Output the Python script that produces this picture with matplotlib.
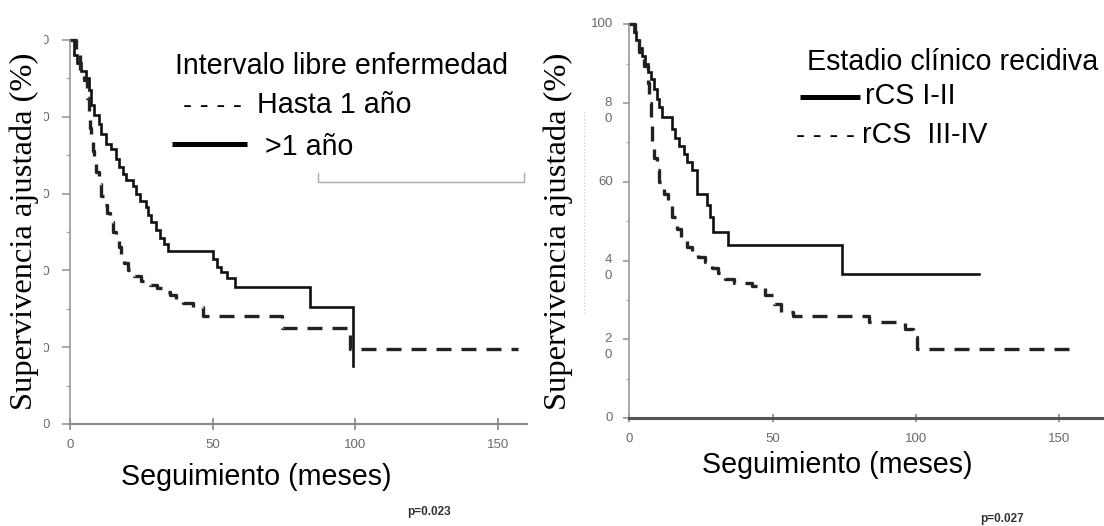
import matplotlib
matplotlib.use("Agg")
import matplotlib.pyplot as plt
from matplotlib.lines import Line2D
from matplotlib.patches import Rectangle
import matplotlib.transforms as mtransforms

# ---------------- data ----------------
# Left panel: Intervalo libre enfermedad
left_gt1_t = [0, 1.5, 2.5, 4, 5.5, 6.5, 7.5, 8.5, 10, 11, 12.5, 14.5, 16, 17, 18.5, 19.5,
              22, 23, 24.5, 26.5, 27.5, 28.5, 30, 31.5, 33, 34.5, 50.2, 51.5, 53, 55, 57.8,
              84.1, 99.3]
left_gt1_s = [100, 96, 94, 92, 90, 87, 83, 80.5, 78, 75.5, 73, 71.5, 69, 67, 65, 63.5,
              62, 60, 58, 56.5, 54.5, 52.5, 50.5, 48.5, 47, 45, 43, 41, 39.5, 38, 35.8,
              30.5, 15.2]
left_le1_t = [0, 2, 3.5, 5, 6, 6.5, 7, 7.5, 8, 8.5, 9, 10, 11, 12, 13, 14, 15, 16, 17, 18,
              19, 20.5, 22.5, 25, 28, 30.5, 33, 35, 37, 39.5, 43, 46.7, 74.2, 98, 157]
left_le1_s = [100, 96, 92, 89.5, 85, 81, 77, 74, 71, 68, 65.5, 62.5, 59.5, 57, 55, 52.5,
              50, 48, 46, 44, 42, 40, 38.5, 37.3, 36.3, 35.5, 34.5, 33.5, 32.5, 31.5, 30.5,
              28.2, 25, 19.6, 19.6]

# Right panel: Estadio clínico recidiva
right_i_ii_t = [0, 1.5, 2.2, 3.5, 4.5, 5.5, 6.5, 7.5, 8.5, 9.5, 10.5, 11.5, 15, 16, 17.5,
                19, 20, 22, 23.5, 27, 28.3, 29.3, 34.6, 74.1, 121.9]
right_i_ii_s = [100, 98, 96, 94, 92, 90, 88, 86, 83.5, 81, 79, 76.5, 73.5, 71, 69,
                67, 65, 63, 57, 54, 51, 47.3, 43.9, 36.7, 36.7]
right_iii_iv_t = [0, 2, 3.5, 5, 6.5, 7, 7.5, 8, 8.5, 9.5, 10.5, 12, 13.5, 15, 16.5, 18, 20,
                  22, 24, 26.5, 29, 31, 33.5, 36.5, 43, 47.5, 50.5, 53, 57, 83.8, 96.3, 99,
                  100.4, 156.9]
right_iii_iv_s = [100, 97, 93, 89.5, 85, 80, 75, 70, 66, 63, 60, 57, 54, 51, 48, 45.5, 43.5,
                  42, 40.8, 39.5, 38.2, 36.8, 35.3, 34.3, 33.5, 31.2, 29, 27, 26, 24.3, 22.5,
                  20.5, 17.5, 17.5]

x_ticks = [0, 50, 100, 150]
y_ticks = [0, 20, 40, 60, 80, 100]
y_minor = [10, 30, 50, 70, 90]
left_ytick_labels = ["0", "20", "40", "60", "80", "100"]
right_ytick_labels = ["0", "2\n0", "4\n0", "60", "8\n0", "100"]

ylabel_text = "Supervivencia ajustada (%)"
xlabel_text = "Seguimiento (meses)"
left_title = "Intervalo libre enfermedad"
left_series = ["Hasta 1 año", ">1 año"]
right_title = "Estadio clínico recidiva"
right_series = ["rCS I-II", "rCS  III-IV"]
p_values = ["p=0.023", "p=0.027"]

# ---------------- figure ----------------
W, H = 1104, 526
fig = plt.figure(figsize=(W / 100, H / 100), dpi=100)
fig.patch.set_facecolor("white")


def fx(x):
    return x / W


def fy(y):
    return 1 - y / H


SANS = "Liberation Sans"
SERIF = "Liberation Serif"
FS = 20.6

axL = fig.add_axes([fx(70), fy(424), 456.5 / W, 384 / H])
axR = fig.add_axes([fx(629.3), fy(418), 475.6 / W, 393.7 / H])
axL.set_xlim(0, 160)
axR.set_xlim(0, 166)
for ax in (axL, axR):
    ax.set_ylim(0, 100)
    ax.spines["top"].set_visible(False)
    ax.spines["right"].set_visible(False)
    ax.set_facecolor("none")
    ax.set_xticks(x_ticks)
    ax.set_xticklabels([str(v) for v in x_ticks], family=SANS)
    ax.set_yticks(y_ticks)
    ax.set_yticks(y_minor, minor=True)

# left axes styling
axL.spines["left"].set_color("#9a9a9a")
axL.spines["left"].set_linewidth(1.2)
axL.spines["bottom"].set_color("#8a8a8a")
axL.spines["bottom"].set_linewidth(1.5)
axL.tick_params(axis="x", direction="inout", length=8, width=1.2, color="#888",
                labelsize=9.5, labelcolor="#6a6a6a", pad=7)
axL.tick_params(axis="y", which="major", direction="out", length=5.8, width=1.2,
                color="#999", labelsize=9.5, labelcolor="#6a6a6a", pad=8.6)
axL.tick_params(axis="y", which="minor", direction="out", length=3, width=1,
                color="#aaa")
axL.set_yticklabels(left_ytick_labels, family=SANS)

# right axes styling
axR.spines["left"].set_color("#9a9a9a")
axR.spines["left"].set_linewidth(1.2)
axR.spines["bottom"].set_color("#555")
axR.spines["bottom"].set_linewidth(2.2)
axR.tick_params(axis="x", direction="inout", length=6, width=1.2, color="#888",
                labelsize=9.5, labelcolor="#6a6a6a", pad=8)
axR.tick_params(axis="y", which="major", direction="out", length=4.3, width=1.2,
                color="#999", labelleft=False)
axR.tick_params(axis="y", which="minor", direction="out", length=2.5, width=1,
                color="#aaa")
trans_lab = mtransforms.blended_transform_factory(axR.transAxes, axR.transData)
for val, lab in zip(y_ticks, right_ytick_labels):
    if "\n" in lab:
        off = mtransforms.ScaledTranslation(-21 / 100, 6.5 / 100, fig.dpi_scale_trans)
        axR.text(0, val, lab, transform=trans_lab + off, ha="center", va="top",
                 fontsize=9.5, color="#6a6a6a", family=SANS, linespacing=1.45,
                 multialignment="center")
    else:
        off = mtransforms.ScaledTranslation(-16 / 100, 0, fig.dpi_scale_trans)
        axR.text(0, val, lab, transform=trans_lab + off, ha="right", va="center",
                 fontsize=9.5, color="#6a6a6a", family=SANS)

# curves
axL.plot(left_gt1_t, left_gt1_s, drawstyle="steps-post", color="#111", lw=1.9,
         clip_on=False, solid_joinstyle="miter")
axL.plot(left_le1_t, left_le1_s, drawstyle="steps-post", color="#222", lw=2.4,
         linestyle=(0, (4.5, 3)), clip_on=False)
axR.plot(right_i_ii_t, right_i_ii_s, drawstyle="steps-post", color="#111", lw=1.9,
         clip_on=False, solid_joinstyle="miter")
axR.plot(right_iii_iv_t, right_iii_iv_s, drawstyle="steps-post", color="#222", lw=2.4,
         linestyle=(0, (4.5, 3)), clip_on=False)

# white box behind left y-label (covers the tick labels as in the scan)
fig.add_artist(Rectangle((0, fy(440)), fx(44), (440 - 28) / H, transform=fig.transFigure,
                         facecolor="white", edgecolor="none", zorder=5))

# y labels
fig.text(fx(24.2), fy(231), ylabel_text, rotation=90, ha="center", va="center",
         family=SERIF, fontsize=23.4, zorder=6)
fig.text(fx(558.5), fy(231), ylabel_text, rotation=90, ha="center", va="center",
         family=SERIF, fontsize=23.4, zorder=6)

# x labels
fig.text(fx(255.8), fy(485), xlabel_text, ha="center", va="baseline", family=SANS,
         fontsize=FS)
fig.text(fx(837.5), fy(473), xlabel_text, ha="center", va="baseline", family=SANS,
         fontsize=FS)

# legends (left)
fig.text(fx(175), fy(74.3), left_title, ha="left", va="baseline", family=SANS, fontsize=FS)
fig.text(fx(183), fy(113.3), "- - - -", ha="left", va="baseline", family=SANS, fontsize=19.5)
fig.text(fx(256.7), fy(113.3), left_series[0], ha="left", va="baseline", family=SANS,
         fontsize=FS)
fig.add_artist(Line2D([fx(172), fx(247)], [fy(144), fy(144)], transform=fig.transFigure,
                      color="black", lw=3.6, solid_capstyle="butt"))
fig.text(fx(265), fy(155), left_series[1], ha="left", va="baseline", family=SANS,
         fontsize=FS)

# legends (right)
fig.text(fx(806.7), fy(70), right_title, ha="left", va="baseline", family=SANS, fontsize=FS)
fig.add_artist(Line2D([fx(800), fx(860)], [fy(96.7), fy(96.7)], transform=fig.transFigure,
                      color="black", lw=3.6, solid_capstyle="butt"))
fig.text(fx(865), fy(104), right_series[0], ha="left", va="baseline", family=SANS,
         fontsize=FS)
fig.text(fx(796), fy(143.3), "- - - -", ha="left", va="baseline", family=SANS,
         fontsize=19.5)
fig.text(fx(862), fy(143.3), right_series[1], ha="left", va="baseline", family=SANS,
         fontsize=FS)

# p values
fig.text(fx(406.7), fy(515), p_values[0], ha="left", va="baseline", family=SANS,
         fontsize=8.5, weight="bold", color="#333")
fig.text(fx(980), fy(522), p_values[1], ha="left", va="baseline", family=SANS,
         fontsize=8.5, weight="bold", color="#333")

# scan artefacts: grey bracket in left panel, faint dotted line in right panel
fig.add_artist(Line2D([fx(318), fx(318), fx(524), fx(524)],
                      [fy(173), fy(182), fy(182), fy(173)], transform=fig.transFigure,
                      color="#aaa", lw=1.0))
fig.add_artist(Line2D([fx(584.3), fx(584.3)], [fy(112), fy(314)], transform=fig.transFigure,
                      color="#c4c4c4", lw=0.8, linestyle=(0, (1, 2))))

fig.savefig("out.png", dpi=100, facecolor="white")
